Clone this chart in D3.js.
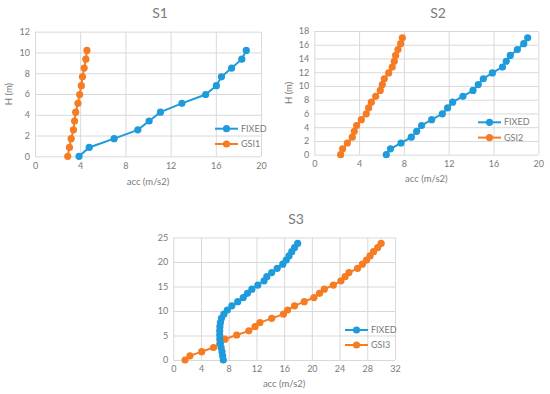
<!DOCTYPE html>
<html>
<head>
<meta charset="utf-8">
<script src="https://cdn.jsdelivr.net/npm/d3@7"></script>
<style>
  body { margin: 0; background: #fff; }
  svg { display: block; }
  text { font-family: Lato, "Open Sans", sans-serif; fill: #7a7a7a; }
</style>
</head>
<body>
<svg id="chart" width="550" height="394"></svg>
<script>
// S1
const h1 = [0, 0.85, 1.7, 2.55, 3.4, 4.25, 5.1, 5.95, 6.8, 7.65, 8.5, 9.35, 10.2];
const fixed1 = [3.9, 4.8, 7.0, 9.1, 10.1, 11.1, 13.0, 15.1, 16.05, 16.5, 17.4, 18.3, 18.7];
const gsi1 = [2.9, 3.05, 3.2, 3.4, 3.5, 3.6, 3.8, 3.95, 4.1, 4.2, 4.35, 4.5, 4.6];

// S2
const h2 = [0, 0.85, 1.7, 2.55, 3.4, 4.25, 5.1, 5.95, 6.8, 7.65, 8.5, 9.35, 10.2,
  11.05, 11.9, 12.75, 13.6, 14.45, 15.3, 16.15, 17.0];
const fixed2 = [6.43, 6.8, 7.74, 8.66, 9.14, 9.58, 10.48, 11.43, 11.9, 12.35, 13.27,
  14.17, 14.64, 15.09, 15.9, 16.8, 17.14, 17.5, 18.13, 18.7, 19.05];
const gsi2 = [2.35, 2.53, 2.95, 3.39, 3.57, 3.78, 4.2, 4.64, 4.85, 5.09, 5.48,
  5.89, 6.07, 6.25, 6.64, 6.96, 7.14, 7.26, 7.47, 7.71, 7.86];

// S3
const h3 = [0, 0.85, 1.7, 2.55, 3.4, 4.25, 5.1, 5.95, 6.8, 7.65, 8.5, 9.35, 10.2,
  11.05, 11.9, 12.75, 13.6, 14.45, 15.3, 16.15, 17.0, 17.85, 18.7, 19.55, 20.4,
  21.25, 22.1, 22.95, 23.8];
const fixed3 = [7.22, 7.12, 7.03, 6.9, 6.78, 6.72, 6.7, 6.7, 6.72, 6.8, 6.95, 7.3,
  7.8, 8.45, 9.3, 10.1, 10.7, 11.35, 12.2, 13.1, 13.5, 14.2, 15.0, 15.8, 16.3,
  16.7, 17.1, 17.5, 17.95];
const gsi3 = [1.7, 2.4, 4.1, 5.8, 6.74, 7.46, 9.15, 10.9, 11.8, 12.5, 14.2, 15.9,
  16.5, 17.5, 18.9, 20.3, 21.1, 21.8, 23.1, 24.2, 24.8, 25.35, 26.6, 27.3, 27.9,
  28.4, 28.9, 29.5, 30.0];

const xTicks1 = [0, 4, 8, 12, 16, 20];
const yTicks1 = [0, 2, 4, 6, 8, 10, 12];
const xTicks2 = [0, 4, 8, 12, 16, 20];
const yTicks2 = [0, 2, 4, 6, 8, 10, 12, 14, 16, 18];
const xTicks3 = [0, 4, 8, 12, 16, 20, 24, 28, 32];
const yTicks3 = [0, 5, 10, 15, 20, 25];

const blue = "#1f9bdc";
const orange = "#f57c22";
const grid = "#d9d9d9";
const textGray = "#7a7a7a";

const svg = d3.select("#chart");

function drawChart(c) {
  const x = d3.scaleLinear().domain([0, d3.max(c.xTicks)]).range([c.left, c.right]);
  const y = d3.scaleLinear().domain([0, d3.max(c.yTicks)]).range([c.bottom, c.top]);
  const g = svg.append("g");

  g.append("g")
    .attr("transform", `translate(0,${c.bottom})`)
    .call(d3.axisBottom(x).tickValues(c.xTicks).tickSize(-(c.bottom - c.top)).tickPadding(6))
    .call(a => a.select(".domain").remove())
    .call(a => a.selectAll("line").attr("stroke", grid))
    .call(a => a.selectAll("text").style("font-size", "9px").attr("fill", textGray)
      .attr("font-family", "Lato, sans-serif"));

  g.append("g")
    .attr("transform", `translate(${c.left},0)`)
    .call(d3.axisLeft(y).tickValues(c.yTicks).tickSize(-(c.right - c.left)).tickPadding(5))
    .call(a => a.select(".domain").remove())
    .call(a => a.selectAll("line").attr("stroke", grid))
    .call(a => a.selectAll("text").style("font-size", "9px").attr("fill", textGray)
      .attr("font-family", "Lato, sans-serif"));

  g.append("text")
    .attr("x", c.titleX).attr("y", c.titleY)
    .attr("text-anchor", "middle")
    .style("font-size", "14px")
    .text(c.title);

  g.append("text")
    .attr("x", (c.left + c.right) / 2).attr("y", c.xTitleY)
    .attr("text-anchor", "middle")
    .style("font-size", "9.5px")
    .text("acc (m/s2)");

  const yt = g.append("text")
    .attr("transform", `translate(${c.yTitleX},${(c.top + c.bottom) / 2}) rotate(-90)`)
    .attr("text-anchor", "middle")
    .style("font-size", "9.5px")
    .text("H (m)");
  if (c.clipY) {
    const id = "clip" + c.title;
    svg.append("clipPath").attr("id", id)
      .append("rect").attr("x", c.clipY).attr("y", 0).attr("width", 100).attr("height", 394);
    yt.attr("clip-path", `url(#${id})`);
  }

  const line = d3.line().x(d => x(d[0])).y(d => y(d[1]));
  const series = [
    { name: "FIXED", color: blue, xs: c.fixed },
    { name: c.gsiName, color: orange, xs: c.gsi }
  ];
  // orange drawn first so blue sits above it, as in the original
  [series[1], series[0]].forEach(s => {
    const pts = s.xs.map((v, i) => [v, c.h[i]]);
    g.append("path")
      .datum(pts)
      .attr("fill", "none")
      .attr("stroke", s.color)
      .attr("stroke-width", 2)
      .attr("d", line);
    g.selectAll(null)
      .data(pts)
      .join("circle")
      .attr("cx", d => x(d[0]))
      .attr("cy", d => y(d[1]))
      .attr("r", 3.6)
      .attr("fill", s.color);
  });

  series.forEach((s, i) => {
    const ly = c.legendY + i * c.legendGap;
    g.append("line")
      .attr("x1", c.legendX).attr("x2", c.legendX + 23)
      .attr("y1", ly).attr("y2", ly)
      .attr("stroke", s.color).attr("stroke-width", 2);
    g.append("circle")
      .attr("cx", c.legendX + 11.5).attr("cy", ly).attr("r", 3.6)
      .attr("fill", s.color);
    g.append("text")
      .attr("x", c.legendX + 26).attr("y", ly)
      .attr("dy", "0.35em")
      .style("font-size", "9px")
      .text(s.name);
  });
}

drawChart({
  title: "S1", titleX: 160, titleY: 18,
  left: 35, right: 261, top: 31.7, bottom: 156.3,
  xTicks: xTicks1, yTicks: yTicks1, xTitleY: 185, yTitleX: 12,
  h: h1, fixed: fixed1, gsi: gsi1, gsiName: "GSI1",
  legendX: 215, legendY: 128.7, legendGap: 15.3
});

drawChart({
  title: "S2", titleX: 438, titleY: 18,
  left: 314.3, right: 538.3, top: 31, bottom: 154.7,
  xTicks: xTicks2, yTicks: yTicks2, xTitleY: 182, yTitleX: 292,
  h: h2, fixed: fixed2, gsi: gsi2, gsiName: "GSI2",
  legendX: 478, legendY: 122.3, legendGap: 15.3
});

drawChart({
  title: "S3", titleX: 296, titleY: 224,
  left: 173.3, right: 395, top: 237.5, bottom: 360,
  xTicks: xTicks3, yTicks: yTicks3, xTitleY: 387, yTitleX: 153, clipY: 149,
  h: h3, fixed: fixed3, gsi: gsi3, gsiName: "GSI3",
  legendX: 345, legendY: 330, legendGap: 15
});
</script>
</body>
</html>
